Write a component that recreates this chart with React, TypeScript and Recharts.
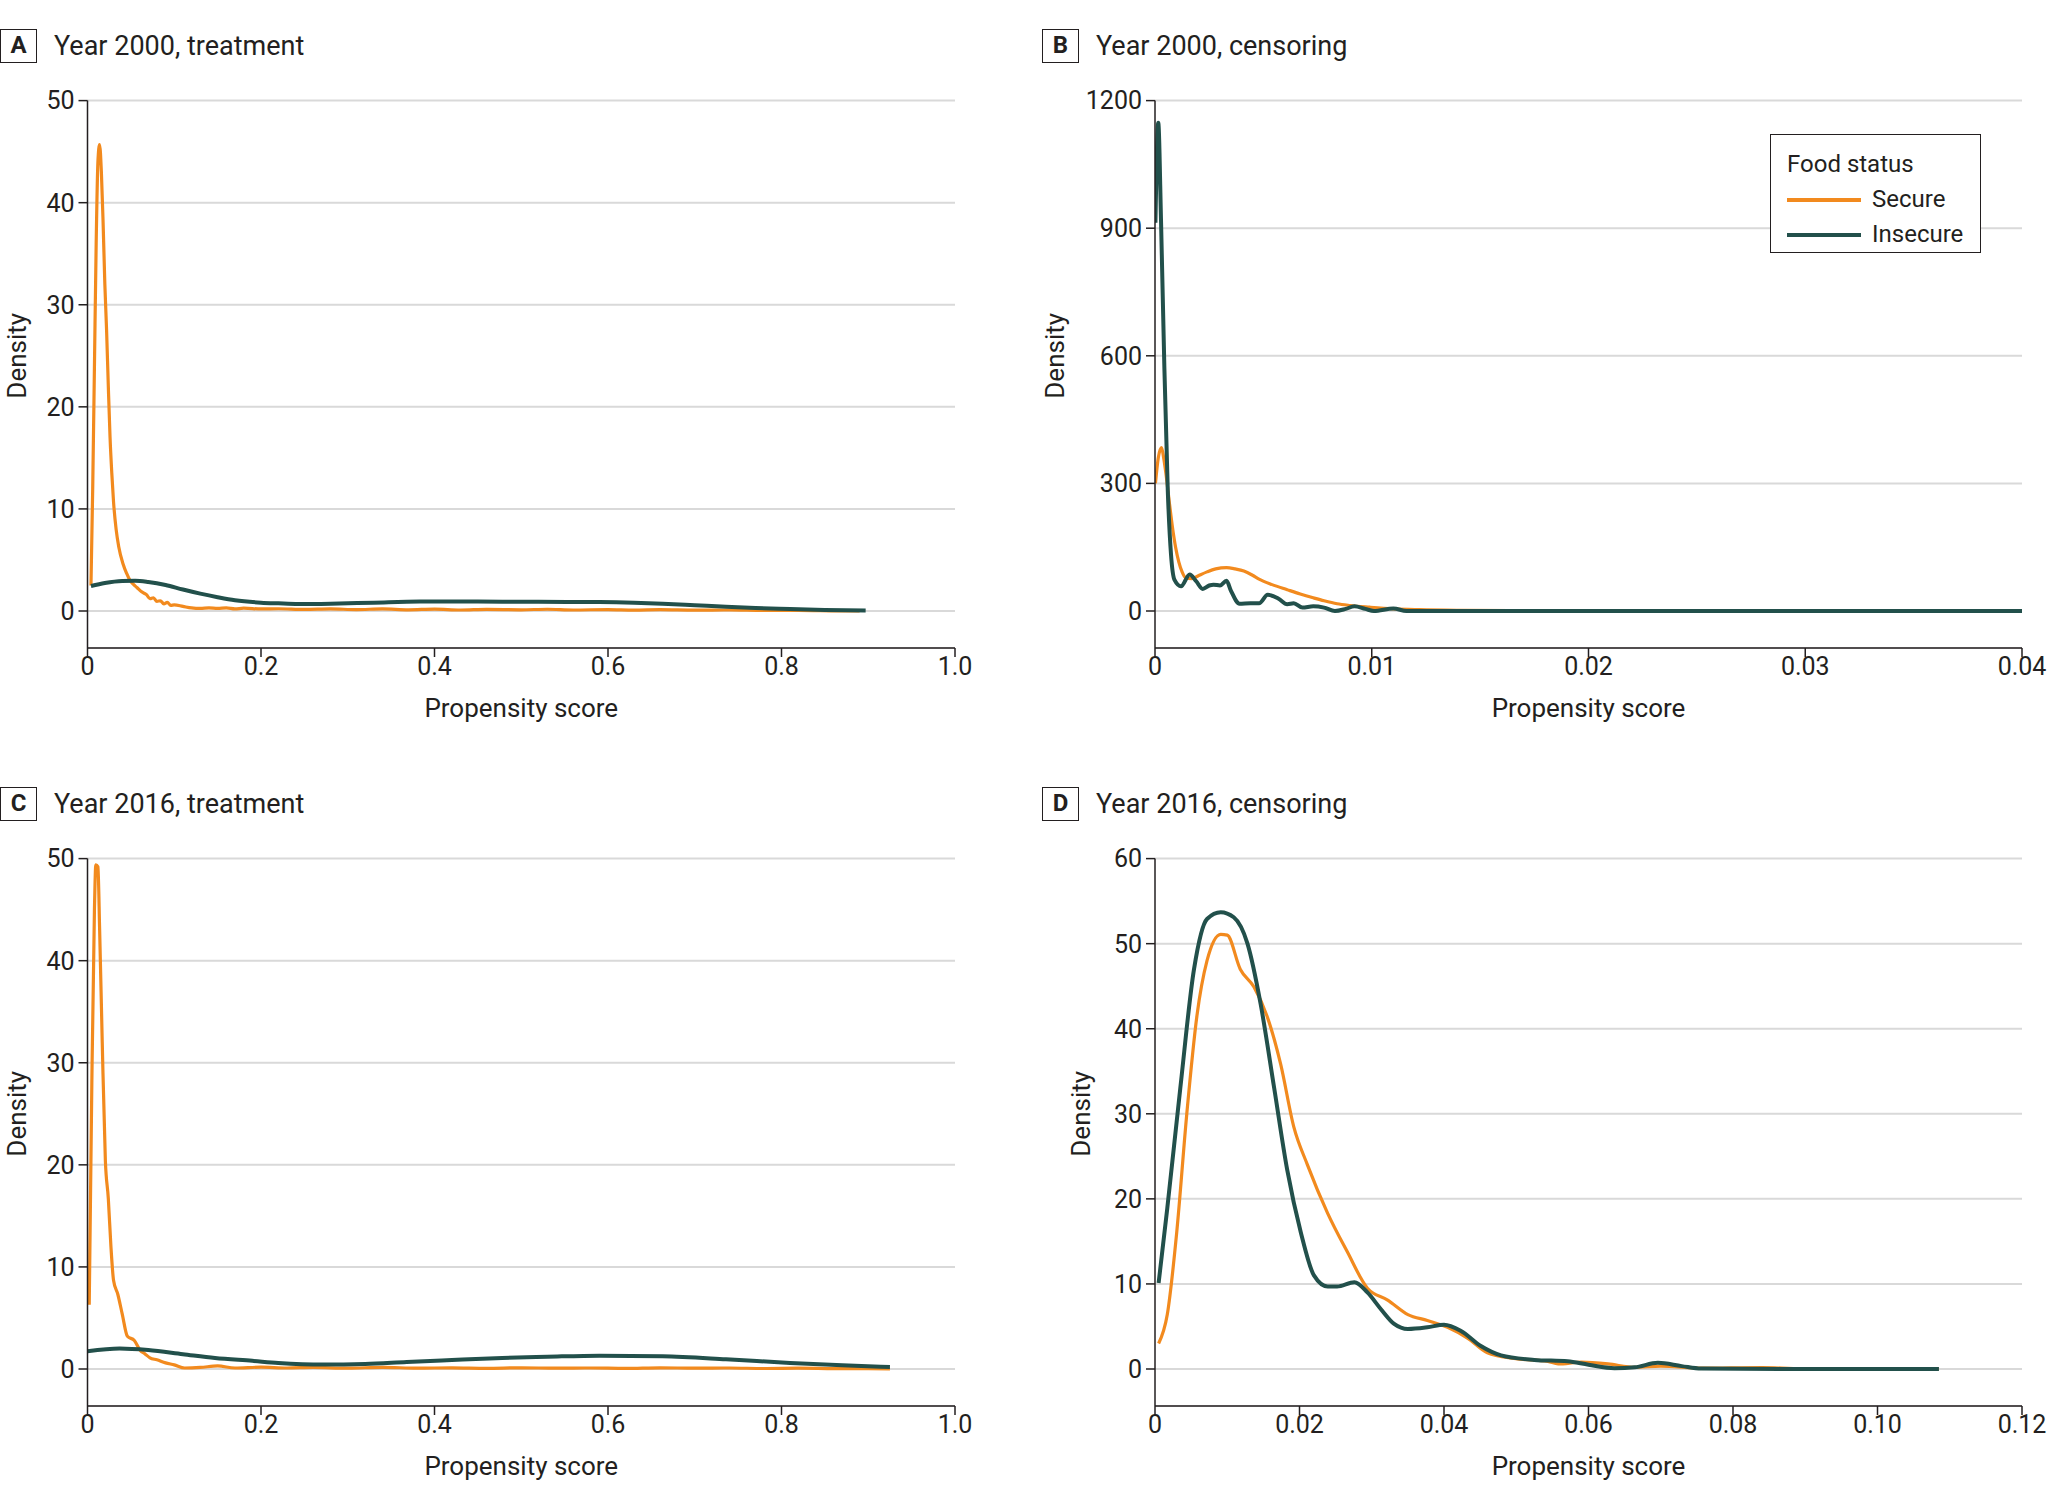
import { CartesianGrid, Label, Legend, Line, LineChart, XAxis, YAxis } from "recharts";

const SECURE = "#f28a1e";
const INSECURE = "#22504b";
const INK = "#231f20";
const FONT = "Roboto, 'Open Sans', sans-serif";

// tick values per panel
const treatmentXTicks = [0, 0.2, 0.4, 0.6, 0.8, 1.0];
const treatmentYTicks = [0, 10, 20, 30, 40, 50];
const censor2000XTicks = [0, 0.01, 0.02, 0.03, 0.04];
const censor2000YTicks = [0, 300, 600, 900, 1200];
const censor2016XTicks = [0, 0.02, 0.04, 0.06, 0.08, 0.1, 0.12];
const censor2016YTicks = [0, 10, 20, 30, 40, 50, 60];

const legendOrder = ["Secure", "Insecure"];

// [propensity score, density]
const secure2000Treatment: [number, number][] = [
  [0.004, 2.5], [0.006, 12], [0.008, 24], [0.01, 36], [0.012, 44], [0.0139, 45.7],
  [0.016, 43], [0.018, 38], [0.02, 32], [0.022, 27.5], [0.024, 22], [0.026, 17],
  [0.028, 13.5], [0.03, 10.7], [0.033, 8], [0.036, 6.3], [0.041, 4.6], [0.045, 3.7],
  [0.049, 3.0], [0.053, 2.6], [0.057, 2.3], [0.062, 1.9], [0.068, 1.6], [0.072, 1.2],
  [0.076, 1.3], [0.08, 0.95], [0.084, 1.0], [0.088, 0.7], [0.092, 0.85], [0.096, 0.55],
  [0.1, 0.6], [0.11, 0.45], [0.12, 0.3], [0.13, 0.25], [0.14, 0.3], [0.15, 0.25],
  [0.16, 0.3], [0.17, 0.2], [0.18, 0.28], [0.2, 0.2], [0.22, 0.22], [0.25, 0.15],
  [0.28, 0.2], [0.31, 0.14], [0.34, 0.2], [0.37, 0.12], [0.4, 0.18], [0.43, 0.1],
  [0.46, 0.16], [0.5, 0.12], [0.53, 0.17], [0.56, 0.1], [0.6, 0.14], [0.63, 0.09],
  [0.66, 0.13], [0.7, 0.08], [0.74, 0.1], [0.78, 0.05], [0.82, 0.06], [0.86, 0.02],
  [0.89, 0.0],
];
const insecure2000Treatment: [number, number][] = [
  [0.004, 2.45], [0.02, 2.75], [0.04, 2.95], [0.055, 2.97], [0.07, 2.85], [0.09, 2.55],
  [0.11, 2.1], [0.13, 1.7], [0.15, 1.35], [0.17, 1.05], [0.2, 0.82], [0.22, 0.75],
  [0.243, 0.69], [0.28, 0.72], [0.33, 0.82], [0.383, 0.92], [0.45, 0.92], [0.52, 0.9],
  [0.59, 0.88], [0.63, 0.82], [0.663, 0.72], [0.7, 0.57], [0.736, 0.42], [0.77, 0.3],
  [0.81, 0.2], [0.85, 0.11], [0.897, 0.05],
];

const secure2000Censoring: [number, number][] = [
  [0.00002, 300], [0.00015, 360], [0.0003, 384], [0.0004, 360], [0.0005, 325],
  [0.00065, 260], [0.0008, 199], [0.00095, 150], [0.0011, 115], [0.00125, 92],
  [0.0014, 79], [0.0017, 76], [0.002, 83], [0.0024, 92], [0.0028, 99], [0.0033, 102],
  [0.0037, 99], [0.0041, 94], [0.0045, 84], [0.0048, 75], [0.0054, 62], [0.0061, 50],
  [0.0067, 40], [0.0073, 31], [0.0078, 24], [0.0084, 17], [0.009, 13], [0.0099, 9],
  [0.011, 5], [0.0122, 3], [0.014, 1.5], [0.017, 0.6], [0.02, 0.2], [0.025, 0], [0.04, 0],
];
const insecure2000Censoring: [number, number][] = [
  [0.00002, 913], [0.00015, 1148], [0.00028, 913], [0.00043, 577], [0.00059, 283],
  [0.00074, 132], [0.0009, 73], [0.0012, 58], [0.0016, 86], [0.0019, 70], [0.0022, 52],
  [0.0025, 60], [0.0027, 62], [0.003, 60], [0.0033, 71], [0.0035, 48], [0.0039, 17],
  [0.0044, 18], [0.0048, 18], [0.0052, 38], [0.0057, 29], [0.0061, 16], [0.0064, 18],
  [0.0068, 8], [0.0073, 11], [0.0078, 8], [0.0083, 0], [0.0088, 5], [0.0092, 11],
  [0.0097, 5], [0.0101, 0], [0.011, 6], [0.0116, 0], [0.013, 0], [0.04, 0],
];

const secure2016Treatment: [number, number][] = [
  [0.002, 6.3], [0.005, 28], [0.008, 45], [0.0096, 49.4], [0.012, 49.2], [0.014, 43],
  [0.017, 32], [0.0206, 20.4], [0.024, 16.7], [0.027, 12], [0.03, 8.7], [0.035, 7.3],
  [0.04, 5.4], [0.046, 3.2], [0.054, 2.8], [0.061, 1.8], [0.066, 1.5], [0.072, 1.1],
  [0.08, 0.9], [0.09, 0.6], [0.1, 0.4], [0.112, 0.1], [0.13, 0.15], [0.15, 0.3],
  [0.17, 0.1], [0.2, 0.18], [0.23, 0.1], [0.26, 0.15], [0.3, 0.08], [0.34, 0.16],
  [0.38, 0.08], [0.42, 0.12], [0.46, 0.07], [0.5, 0.12], [0.54, 0.08], [0.58, 0.1],
  [0.62, 0.06], [0.66, 0.12], [0.7, 0.08], [0.74, 0.1], [0.78, 0.05], [0.82, 0.08],
  [0.86, 0.04], [0.9, 0.03], [0.925, 0.02],
];
const insecure2016Treatment: [number, number][] = [
  [0.0, 1.73], [0.037, 2.0], [0.07, 1.85], [0.11, 1.45], [0.147, 1.08], [0.19, 0.8],
  [0.22, 0.59], [0.272, 0.43], [0.32, 0.5], [0.368, 0.69], [0.42, 0.88], [0.478, 1.08],
  [0.53, 1.2], [0.59, 1.31], [0.663, 1.24], [0.736, 0.95], [0.81, 0.59], [0.87, 0.36],
  [0.925, 0.2],
];

const secure2016Censoring: [number, number][] = [
  [0.0005, 3], [0.0017, 6.4], [0.003, 16], [0.0044, 30], [0.0058, 41.5], [0.0072, 48],
  [0.0091, 51.1], [0.01, 51], [0.0118, 47], [0.0137, 44.9], [0.0155, 41.5],
  [0.0174, 35.8], [0.0192, 28.5], [0.0211, 24], [0.0239, 18.3], [0.0266, 13.8],
  [0.0294, 9.5], [0.0322, 8.1], [0.035, 6.4], [0.0377, 5.7], [0.0405, 4.9],
  [0.0433, 3.6], [0.046, 1.9], [0.0497, 1.24], [0.0544, 0.9], [0.0558, 0.6],
  [0.059, 0.8], [0.0627, 0.6], [0.0664, 0.2], [0.07, 0.34], [0.0756, 0.1],
  [0.084, 0.17], [0.0895, 0.05], [0.1, 0.05], [0.1085, 0.02],
];
const insecure2016Censoring: [number, number][] = [
  [0.0005, 10.1], [0.0017, 18.9], [0.0035, 33], [0.0054, 47], [0.0072, 52.9],
  [0.0091, 53.7], [0.0109, 53.1], [0.0128, 50], [0.0146, 43], [0.0165, 33],
  [0.0183, 23.4], [0.0202, 16], [0.022, 11], [0.0239, 9.7], [0.0252, 9.7],
  [0.0276, 10.2], [0.0294, 9], [0.0313, 7], [0.0331, 5.3], [0.035, 4.7], [0.0377, 4.9],
  [0.04, 5.2], [0.0423, 4.5], [0.0451, 2.7], [0.0479, 1.6], [0.0525, 1.07],
  [0.0571, 0.9], [0.06, 0.5], [0.0636, 0.1], [0.0664, 0.2], [0.0696, 0.73],
  [0.0729, 0.34], [0.0756, 0.05], [0.09, 0.0], [0.1085, 0.0],
];

const toPoints = (pairs: [number, number][]) => pairs.map(([x, y]) => ({ x, y }));

const BOTTOM_PAD = 37;

const DensityLabel = (props: any) => {
  const vb = props.viewBox ?? { x: 0, y: 0, width: 0, height: 0 };
  const cx = vb.x + props.dx;
  const cy = vb.y + (vb.height - BOTTOM_PAD) / 2;
  return (
    <text
      x={cx}
      y={cy}
      transform={`rotate(-90 ${cx} ${cy})`}
      textAnchor="middle"
      dominantBaseline="central"
      fill={INK}
      fontSize={26}
    >
      Density
    </text>
  );
};

const FoodLegend = (props: any) => {
  const items = [...(props.payload ?? [])].sort(
    (a: any, b: any) => legendOrder.indexOf(a.value) - legendOrder.indexOf(b.value)
  );
  return (
    <div
      style={{
        width: 211,
        height: 119,
        boxSizing: "border-box",
        border: `1.5px solid ${INK}`,
        background: "#fff",
        padding: "12px 0 0 16px",
        fontSize: 24,
        color: INK,
        lineHeight: "35px",
      }}
    >
      <div>Food status</div>
      {items.map((item: any) => (
        <div key={item.value} style={{ display: "flex", alignItems: "center" }}>
          <svg width={74} height={6} style={{ marginRight: 11 }}>
            <line x1={0} y1={3} x2={74} y2={3} stroke={item.color} strokeWidth={4} />
          </svg>
          <span>{item.value}</span>
        </div>
      ))}
    </div>
  );
};

interface PanelProps {
  left: number;
  top: number;
  width: number;
  marginLeft: number;
  marginRight: number;
  boxLeft: number;
  letter: string;
  title: string;
  secure: [number, number][];
  insecure: [number, number][];
  xTicks: number[];
  yTicks: number[];
  digits: number;
  densityDx: number;
  legend?: boolean;
}

const Panel = (p: PanelProps) => {
  const fmt = (v: number) => (v === 0 ? "0" : v.toFixed(p.digits));
  return (
    <div style={{ position: "absolute", left: p.left, top: p.top, width: p.width, height: 748 }}>
      <div
        style={{
          position: "absolute",
          left: p.boxLeft,
          top: 29,
          width: 37,
          height: 34,
          boxSizing: "border-box",
          border: `1.5px solid ${INK}`,
          fontWeight: 700,
          fontSize: 24,
          lineHeight: "31px",
          textAlign: "center",
          color: INK,
        }}
      >
        {p.letter}
      </div>
      <div
        style={{
          position: "absolute",
          left: p.boxLeft + 54,
          top: 29,
          height: 34,
          lineHeight: "34px",
          fontSize: 27,
          color: INK,
          whiteSpace: "nowrap",
        }}
      >
        {p.title}
      </div>
      <LineChart
        width={p.width}
        height={748}
        margin={{ top: 100.6, right: p.marginRight, bottom: 20, left: p.marginLeft }}
      >
        <CartesianGrid vertical={false} stroke="#d9d9d9" strokeWidth={2} />
        <XAxis
          type="number"
          dataKey="x"
          domain={[p.xTicks[0], p.xTicks[p.xTicks.length - 1]]}
          ticks={p.xTicks}
          interval={0}
          allowDataOverflow
          tickFormatter={fmt}
          height={80}
          tickSize={9}
          tickMargin={0}
          stroke={INK}
          strokeWidth={1.5}
          tick={{ fill: INK, fontSize: 25 }}
        >
          <Label value="Propensity score" position="insideBottom" offset={11} fill={INK} fontSize={26} />
        </XAxis>
        <YAxis
          type="number"
          domain={[0, p.yTicks[p.yTicks.length - 1]]}
          ticks={p.yTicks}
          interval={0}
          width={60}
          padding={{ top: 0, bottom: BOTTOM_PAD }}
          tickSize={9}
          tickMargin={4}
          stroke={INK}
          strokeWidth={1.5}
          tick={{ fill: INK, fontSize: 25 }}
        >
          <Label content={<DensityLabel dx={p.densityDx} />} />
        </YAxis>
        <Line
          data={toPoints(p.secure)}
          dataKey="y"
          name="Secure"
          type="monotone"
          stroke={SECURE}
          strokeWidth={3.2}
          dot={false}
          activeDot={false}
          isAnimationActive={false}
        />
        <Line
          data={toPoints(p.insecure)}
          dataKey="y"
          name="Insecure"
          type="monotone"
          stroke={INSECURE}
          strokeWidth={4}
          dot={false}
          activeDot={false}
          isAnimationActive={false}
        />
        {p.legend && (
          <Legend
            layout="vertical"
            align="center"
            verticalAlign="middle"
            content={<FoodLegend />}
            wrapperStyle={{ left: 770, top: 134, width: 211, height: 119 }}
          />
        )}
      </LineChart>
    </div>
  );
};

export default function App() {
  return (
    <div
      style={{
        position: "absolute",
        left: 0,
        top: 0,
        width: 2048,
        height: 1504,
        background: "#fff",
        fontFamily: FONT,
        overflow: "hidden",
      }}
    >
      <Panel
        left={0}
        top={0}
        width={995}
        marginLeft={27.5}
        marginRight={40}
        boxLeft={0}
        letter="A"
        title="Year 2000, treatment"
        secure={secure2000Treatment}
        insecure={insecure2000Treatment}
        xTicks={treatmentXTicks}
        yTicks={treatmentYTicks}
        digits={1}
        densityDx={-10}
      />
      <Panel
        left={1000}
        top={0}
        width={1048}
        marginLeft={95}
        marginRight={26}
        boxLeft={42}
        letter="B"
        title="Year 2000, censoring"
        secure={secure2000Censoring}
        insecure={insecure2000Censoring}
        xTicks={censor2000XTicks}
        yTicks={censor2000YTicks}
        digits={2}
        densityDx={-40}
        legend
      />
      <Panel
        left={0}
        top={757.5}
        width={995}
        marginLeft={27.5}
        marginRight={40}
        boxLeft={0}
        letter="C"
        title="Year 2016, treatment"
        secure={secure2016Treatment}
        insecure={insecure2016Treatment}
        xTicks={treatmentXTicks}
        yTicks={treatmentYTicks}
        digits={1}
        densityDx={-10}
      />
      <Panel
        left={1000}
        top={757.5}
        width={1048}
        marginLeft={95}
        marginRight={26}
        boxLeft={42}
        letter="D"
        title="Year 2016, censoring"
        secure={secure2016Censoring}
        insecure={insecure2016Censoring}
        xTicks={censor2016XTicks}
        yTicks={censor2016YTicks}
        digits={2}
        densityDx={-14}
      />
    </div>
  );
}
